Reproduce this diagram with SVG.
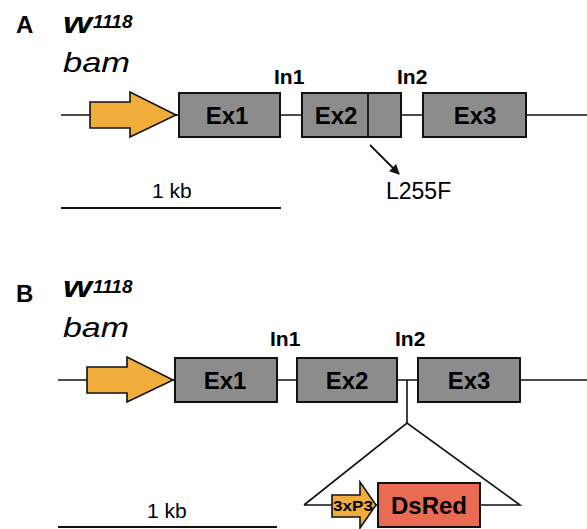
<svg xmlns="http://www.w3.org/2000/svg" width="587" height="529" viewBox="0 0 587 529">
  <style>
    .bg { fill: #ffffff; }
    .gene { stroke: #111; stroke-width: 1.6; fill: none; }
    .exon { fill: #8c8c8c; stroke: #111; stroke-width: 2; }
    .promoter { fill: #f0ad3c; stroke: #111; stroke-width: 1.6; stroke-linejoin: miter; }
    .dsred { fill: #e96b54; stroke: #111; stroke-width: 2; }
    .panel { font-family: "Liberation Sans", Arial, sans-serif; font-weight: bold; font-size: 24px; fill: #000; }
    .geno { font-family: "Liberation Sans", Arial, sans-serif; font-weight: bold; font-style: italic; fill: #000; }
    .w { font-size: 29px; }
    .sup { font-size: 19px; }
    .gname { font-family: "Liberation Sans", Arial, sans-serif; font-style: italic; font-size: 28px; fill: #000; }
    .exlab { font-family: "Liberation Sans", Arial, sans-serif; font-weight: bold; font-size: 24px; fill: #000; text-anchor: middle; }
    .inlab { font-family: "Liberation Sans", Arial, sans-serif; font-weight: bold; font-size: 21px; fill: #000; }
    .kb { font-family: "Liberation Sans", Arial, sans-serif; font-size: 21px; fill: #000; }
    .mut { font-family: "Liberation Sans", Arial, sans-serif; font-size: 23px; fill: #000; }
    .tag { font-family: "Liberation Sans", Arial, sans-serif; font-weight: bold; font-size: 15px; fill: #000; text-anchor: middle; }
    .scale { stroke: #111; stroke-width: 2; }
  </style>
  <defs>
    <marker id="arrowhead" viewBox="0 0 10 10" refX="9" refY="5" markerWidth="11" markerHeight="10" orient="auto" markerUnits="userSpaceOnUse">
      <path d="M0,0 L10,5 L0,10 z" fill="#111"/>
    </marker>
  </defs>
  <rect class="bg" x="0" y="0" width="587" height="529"/>

  <!-- Panel A: wild-type bam locus with point mutation -->
  <g id="panelA-labels">
    <text class="panel" x="16" y="33">A</text>
    <text class="geno w" x="63" y="33" textLength="29" lengthAdjust="spacingAndGlyphs">w</text>
    <text class="geno sup" x="93" y="28">1118</text>
    <text class="gname" x="63" y="72" textLength="67" lengthAdjust="spacingAndGlyphs">bam</text>
  </g>
  <g id="connectorsA">
    <line class="gene" x1="61" y1="115" x2="587" y2="115"/>
    <line x1="370" y1="145" x2="399" y2="174" stroke="#111" stroke-width="1.8" marker-end="url(#arrowhead)"/>
  </g>
  <g id="promoterA">
    <polygon class="promoter" points="90,102 130,102 130,92 176,115 130,137 130,128 90,128"/>
  </g>
  <g id="ex1A">
    <rect class="exon" x="179" y="93" width="101" height="44"/>
    <text class="exlab" x="227" y="124">Ex1</text>
  </g>
  <g id="in1A"><text class="inlab" x="274" y="84">In1</text></g>
  <g id="ex2A">
    <rect class="exon" x="302" y="93" width="99" height="44"/>
    <line x1="368" y1="93" x2="368" y2="137" stroke="#111" stroke-width="1.8"/>
    <text class="exlab" x="336" y="124">Ex2</text>
  </g>
  <g id="in2A"><text class="inlab" x="397" y="84">In2</text></g>
  <g id="ex3A">
    <rect class="exon" x="423" y="93" width="103" height="44"/>
    <text class="exlab" x="475" y="124">Ex3</text>
  </g>
  <g id="mutationA"><text class="mut" x="386" y="199">L255F</text></g>
  <g id="scaleA">
    <text class="kb" x="152" y="198">1 kb</text>
    <line class="scale" x1="61" y1="208" x2="281" y2="208"/>
  </g>

  <!-- Panel B: bam locus with 3xP3-DsRed insertion in intron 2 -->
  <g id="panelB-labels">
    <text class="panel" x="16" y="302">B</text>
    <text class="geno w" x="63" y="297" textLength="29" lengthAdjust="spacingAndGlyphs">w</text>
    <text class="geno sup" x="93" y="293">1118</text>
    <text class="gname" x="63" y="337" textLength="66" lengthAdjust="spacingAndGlyphs">bam</text>
  </g>
  <g id="connectorsB">
    <line class="gene" x1="58" y1="380" x2="587" y2="380"/>
    <line class="gene" x1="407" y1="380" x2="407" y2="423"/>
    <polyline class="gene" points="304,505 407,423 520,505 304,505"/>
  </g>
  <g id="promoterB">
    <polygon class="promoter" points="87,367 127,367 127,357 173,380 127,402 127,393 87,393"/>
  </g>
  <g id="ex1B">
    <rect class="exon" x="175" y="358" width="102" height="44"/>
    <text class="exlab" x="225" y="389">Ex1</text>
  </g>
  <g id="in1B"><text class="inlab" x="270" y="346">In1</text></g>
  <g id="ex2B">
    <rect class="exon" x="297" y="358" width="100" height="44"/>
    <text class="exlab" x="347" y="389">Ex2</text>
  </g>
  <g id="in2B"><text class="inlab" x="395" y="346">In2</text></g>
  <g id="ex3B">
    <rect class="exon" x="418" y="358" width="102" height="44"/>
    <text class="exlab" x="469" y="389">Ex3</text>
  </g>
  <g id="p3xP3">
    <polygon class="promoter" points="332,495 360,495 360,482 376,505 360,528 360,517 332,517"/>
    <text class="tag" x="353" y="511" textLength="40" lengthAdjust="spacingAndGlyphs">3xP3</text>
  </g>
  <g id="dsred">
    <rect class="dsred" x="378" y="483" width="102" height="44"/>
    <text class="exlab" x="429" y="514">DsRed</text>
  </g>
  <g id="scaleB">
    <text class="kb" x="147" y="518">1 kb</text>
    <line class="scale" x1="58" y1="527" x2="277" y2="527"/>
  </g>
</svg>
